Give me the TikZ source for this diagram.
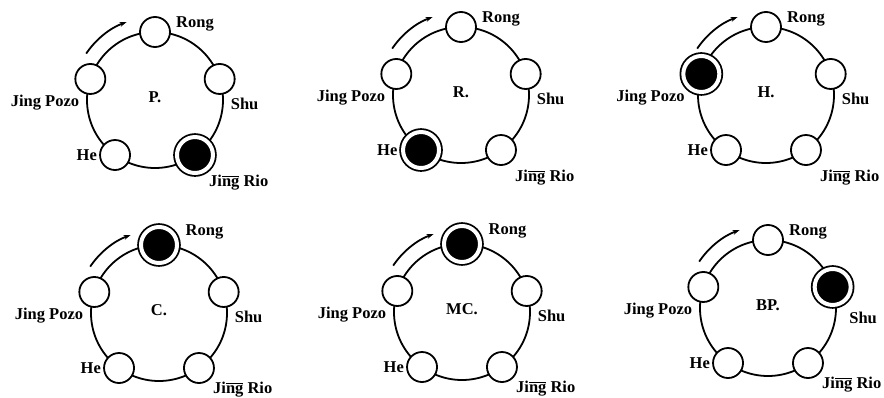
\documentclass[tikz,border=0pt]{standalone}
\usepackage{fontspec}
\setmainfont{Liberation Serif}
\usetikzlibrary{arrows.meta,calc}
\newcommand\barng{\ensuremath{\overline{\mbox{ng}}}}
\newcommand\riody{31}
\tikzset{
  sm/.style={circle,draw,line width=1.8pt,fill=white,minimum size=30pt,inner sep=0pt,outer sep=0pt},
  act/.style={circle,draw=black,line width=1.8pt,double=white,double distance=4pt,
    fill=black,minimum size=36pt,inner sep=0pt,outer sep=2.5pt},
  ring/.style={line width=1.8pt},
  rot/.style={line width=1.8pt,-{Stealth[length=7pt,width=5pt]}},
  lab/.style={font=\fontsize{16.5}{19}\selectfont\bfseries,inner sep=0pt}
}
\newcommand\pnl[9]{%
 \begin{scope}[shift={(#2pt,-#3pt)}]
  \draw[ring] (0,0) circle (68pt);
  \draw[rot] (146:83pt) arc (146:110:83pt);
  \node[#5] (#1rong) at (90:68pt) {};
  \node[#6] (#1shu) at (18:68pt) {};
  \node[#7] (#1rio) at (-54:68pt) {};
  \node[#8] (#1he) at (234:68pt) {};
  \node[#9] (#1pozo) at (162:68pt) {};
  \node[lab,anchor=base] (#1t) at (0pt,-3pt) {#4};
  \node[lab,anchor=base west] (#1rongl) at ($(#1rong.north -| #1rong.east)+(6pt,-11pt)$) {Rong};
  \node[lab,anchor=base west] (#1shul) at ($(#1shu.south -| #1shu.east)+(-4pt,-16pt)$) {Shu};
  \node[lab,anchor=base west] (#1riol) at ($(#1rio.center)+(14pt,-\riody pt)$) {Ji\barng{} Rio};
  \node[lab,anchor=base east] (#1hel) at ($(#1he.west |- #1he.center)+(-3pt,-5pt)$) {He};
  \node[lab,anchor=base east] (#1pozol) at ($(#1pozo.west |- #1pozo.center)+(4pt,-28pt)$) {Jing Pozo};
 \end{scope}}
\begin{document}
\begin{tikzpicture}
\useasboundingbox (0pt,0pt) rectangle (884pt,-398pt);
\pnl{a}{155}{100}{P.}{sm}{sm}{act}{sm}{sm}
\pnl{b}{461}{95}{R.}{sm}{sm}{sm}{act}{sm}
\pnl{c}{766}{95}{H.}{sm}{sm}{sm}{sm}{act}
\renewcommand\riody{25}
\pnl{d}{159}{313}{C.}{act}{sm}{sm}{sm}{sm}
\pnl{e}{462}{312}{MC.}{act}{sm}{sm}{sm}{sm}
\pnl{f}{768}{308}{BP.}{sm}{act}{sm}{sm}{sm}
\end{tikzpicture}
\end{document}
